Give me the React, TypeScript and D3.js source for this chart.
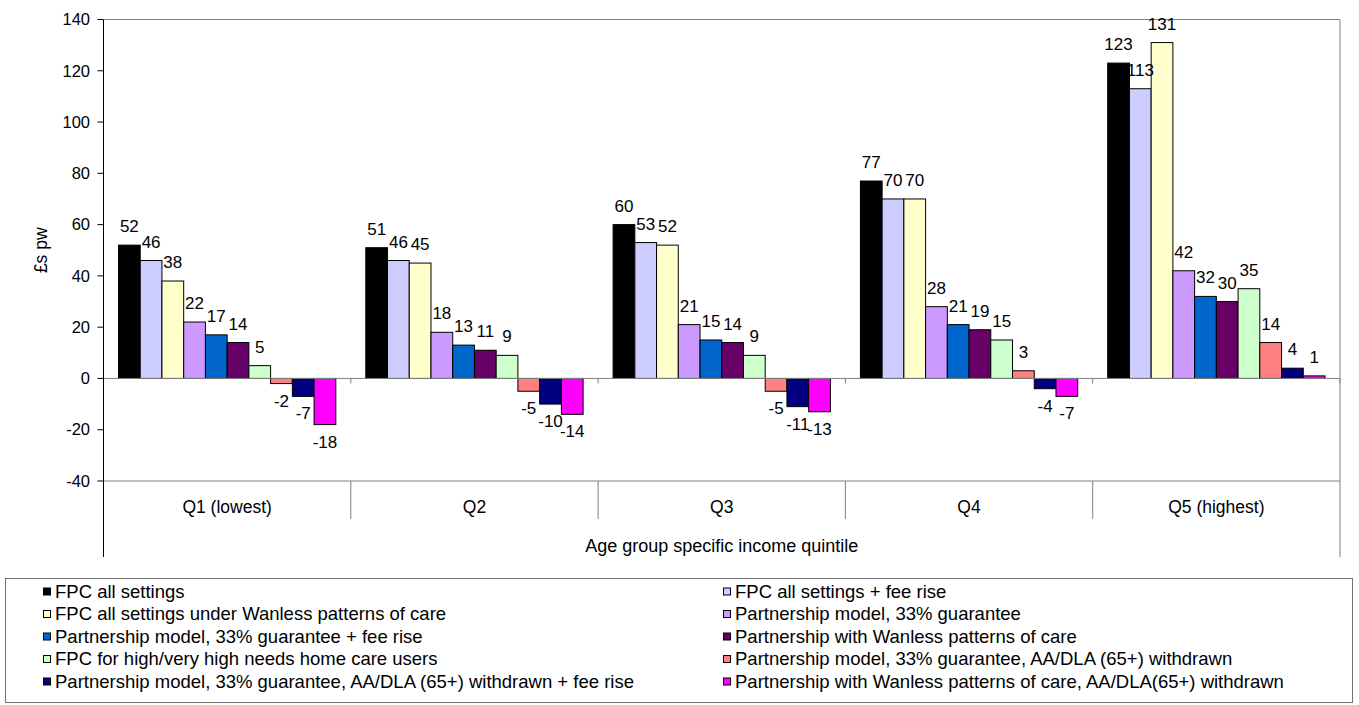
import React from "react";
import * as d3 from "d3";

// quintile categories and tick values
const categories = ["Q1 (lowest)", "Q2", "Q3", "Q4", "Q5 (highest)"];
const yTicks = [-40, -20, 0, 20, 40, 60, 80, 100, 120, 140];

const fpcAll = [52, 51, 60, 77, 123];
const fpcFeeRise = [46, 46, 53, 70, 113];
const fpcWanless = [38, 45, 52, 70, 131];
const partnership = [22, 18, 21, 28, 42];
const partnershipFeeRise = [17, 13, 15, 21, 32];
const partnershipWanless = [14, 11, 14, 19, 30];
const fpcHighNeeds = [5, 9, 9, 15, 35];
const partnershipAADLA = [-2, -5, -5, 3, 14];
const partnershipAADLAFee = [-7, -10, -11, -4, 4];
const partnershipWanlessAADLA = [-18, -14, -13, -7, 1];

const seriesNames = [
  "FPC all settings",
  "FPC all settings + fee rise",
  "FPC all settings under Wanless patterns of care",
  "Partnership model, 33% guarantee",
  "Partnership model, 33% guarantee + fee rise",
  "Partnership with Wanless patterns of care",
  "FPC for high/very high needs home care users",
  "Partnership model, 33% guarantee, AA/DLA (65+) withdrawn",
  "Partnership model, 33% guarantee, AA/DLA (65+) withdrawn + fee rise",
  "Partnership with Wanless patterns of care, AA/DLA(65+) withdrawn",
];
const seriesColors = [
  "#000000", "#ccccff", "#ffffcc", "#cc99ff", "#0066cc",
  "#660066", "#ccffcc", "#ff8080", "#000080", "#ff00ff",
];
const seriesValues = [
  fpcAll, fpcFeeRise, fpcWanless, partnership, partnershipFeeRise,
  partnershipWanless, fpcHighNeeds, partnershipAADLA, partnershipAADLAFee, partnershipWanlessAADLA,
];

const FONT = "'Liberation Sans', Arial, sans-serif";

export default function App() {
  const left = 103.5, right = 1340, top = 19.5, bottom = 481;

  const x0 = d3.scaleBand<string>().domain(categories).range([left, right]).padding(0);
  const x1 = d3.scaleBand<number>()
    .domain(d3.range(seriesNames.length))
    .range([0, x0.bandwidth()])
    .paddingInner(0)
    .paddingOuter(0.69);
  const y = d3.scaleLinear().domain([-40, 140]).range([bottom, top]);
  const zero = y(0);

  const boundaries = categories.map((c) => x0(c)! + x0.bandwidth());

  return (
    <div style={{ position: "absolute", left: 0, top: 0 }}>
      <svg width={1359} height={705} style={{ display: "block", fontFamily: FONT }}>
        <rect width={1359} height={705} fill="#fff" />

        {/* plot frame */}
        <line x1={left} x2={right} y1={top} y2={top} stroke="#808080" />
        <line x1={right} x2={right} y1={top} y2={557} stroke="#808080" />
        <line x1={left} x2={right} y1={bottom} y2={bottom} stroke="#808080" />

        {/* category separators */}
        {boundaries.slice(0, -1).map((b, i) => (
          <line key={"sep" + i} x1={b} x2={b} y1={bottom} y2={519} stroke="#808080" />
        ))}

        {/* bars */}
        {categories.map((c, ci) => (
          <g key={c} transform={`translate(${x0(c)},0)`}>
            {seriesValues.map((vals, si) => {
              const v = vals[ci];
              const yt = y(Math.max(0, v));
              const h = Math.abs(y(v) - zero);
              return (
                <rect key={si} x={x1(si)} y={yt} width={x1.bandwidth()} height={h}
                  fill={seriesColors[si]} stroke="#000" strokeWidth={1} />
              );
            })}
          </g>
        ))}

        {/* zero line with ticks */}
        <line x1={left} x2={right} y1={zero} y2={zero} stroke="#808080" />
        {boundaries.map((b, i) => (
          <line key={"zt" + i} x1={b} x2={b} y1={zero} y2={zero + 5} stroke="#808080" />
        ))}

        {/* data labels */}
        {categories.map((c, ci) => (
          <g key={"lab" + c}>
            {seriesValues.map((vals, si) => {
              const v = vals[ci];
              const cx = x0(c)! + x1(si)! + x1.bandwidth() / 2;
              const ty = v >= 0 ? y(v) - 13 : y(v) + 23;
              return (
                <text key={si} x={cx} y={ty} fontSize={17} textAnchor="middle" fill="#000">
                  {v}
                </text>
              );
            })}
          </g>
        ))}

        {/* y axis */}
        <line x1={left} x2={left} y1={top} y2={557} stroke="#000" />
        {yTicks.map((t) => (
          <g key={t}>
            <line x1={left - 6} x2={left} y1={y(t)} y2={y(t)} stroke="#000" />
            <text x={90} y={y(t)} dy="0.35em" fontSize={16.5} textAnchor="end">{t}</text>
          </g>
        ))}
        <text transform={`translate(47,${(top + bottom) / 2}) rotate(-90)`} fontSize={17.5} textAnchor="middle">
          £s pw
        </text>

        {/* category labels */}
        {categories.map((c) => (
          <text key={"cl" + c} x={x0(c)! + x0.bandwidth() / 2} y={513} fontSize={17.5} textAnchor="middle">
            {c}
          </text>
        ))}
        <text x={(left + right) / 2} y={552} fontSize={18} textAnchor="middle">
          Age group specific income quintile
        </text>

        {/* legend */}
        <rect x={5.5} y={578.5} width={1347} height={124} fill="#fff" stroke="#707070" />
        {seriesNames.map((name, i) => {
          const col = i % 2;
          const row = Math.floor(i / 2);
          const mx = col === 0 ? 43 : 723;
          const cy = 591.5 + row * 22.5;
          return (
            <g key={name}>
              <rect x={mx + 0.5} y={cy - 3.5} width={7} height={7} fill={seriesColors[i]} stroke="#000" />
              <text x={mx + 12} y={cy + 6} fontSize={18.5}>{name}</text>
            </g>
          );
        })}
      </svg>
    </div>
  );
}
